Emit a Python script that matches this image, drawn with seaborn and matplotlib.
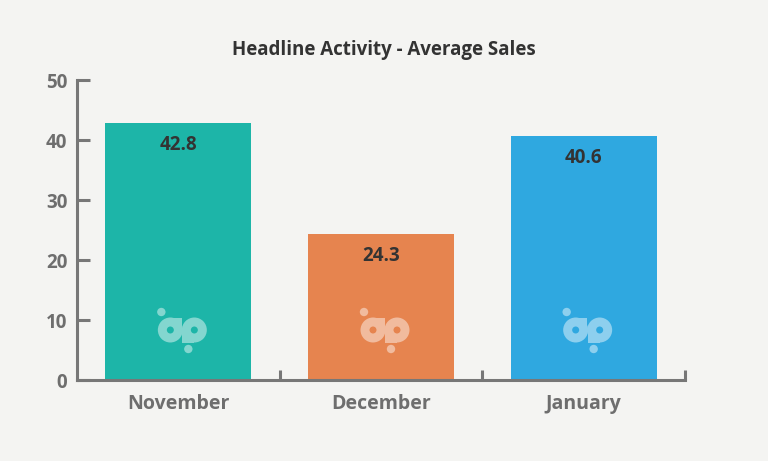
import matplotlib
matplotlib.use("Agg")
import matplotlib.pyplot as plt
import matplotlib.patches as mpatches
import matplotlib.transforms as mtransforms
import matplotlib.colors as mcolors
import seaborn as sns
import pandas as pd
import numpy as np

months = ["November", "December", "January"]
avg_sales = [42.8, 24.3, 40.6]
bar_colors = ["#1DB5A8", "#E6844F", "#2FA8E0"]
y_ticks = [0, 10, 20, 30, 40, 50]
title = "Headline Activity - Average Sales"

BG = "#F4F4F2"
AXC = "#777777"
TXT = "#6E6E6E"

sns.set_theme(style="white")
plt.rcParams["font.family"] = ["Open Sans", "DejaVu Sans"]

fig = plt.figure(figsize=(7.68, 4.61), dpi=100, facecolor=BG)
ax = fig.add_axes([77/768, 1-380/461, (685-77)/768, 300/461])
ax.set_facecolor(BG)

df = pd.DataFrame({"month": months, "sales": avg_sales})
sns.barplot(data=df, x="month", y="sales", hue="month", palette=bar_colors,
            saturation=1, width=0.72, legend=False, ax=ax, linewidth=0)

ax.set_xlim(-0.5, 2.5)
ax.set_ylim(0, 50)
ax.set_yticks(y_ticks)
ax.set_xlabel("")
ax.set_ylabel("")
for s in ["top", "right"]:
    ax.spines[s].set_visible(False)
for s in ["left", "bottom"]:
    ax.spines[s].set_color(AXC)
    ax.spines[s].set_linewidth(2.2)
    ax.spines[s].set_capstyle("projecting")
    ax.spines[s].set_zorder(5)

ax.tick_params(axis="y", left=True, direction="in", length=9, width=2.2, color=AXC,
               labelsize=13.5, labelcolor=TXT, pad=7)
ax.tick_params(axis="x", which="major", bottom=False, length=0, labelsize=14,
               labelcolor=TXT, pad=10)
ax.set_xticks([0.5, 1.5, 2.5], minor=True)
ax.tick_params(axis="x", which="minor", bottom=True, direction="in", length=7,
               width=2.2, color=AXC)
for lab in ax.get_yticklabels() + ax.get_xticklabels():
    lab.set_fontweight("bold")

# value labels
for i, v in enumerate(avg_sales):
    ax.annotate(f"{v}", (i, v), xytext=(0, -22), textcoords="offset pixels",
                ha="center", va="center", fontsize=13.5, fontweight="bold", color="#333333")

# watermark logos (decorative)
fig.canvas.draw()
for i, c in enumerate(bar_colors):
    base = np.array(mcolors.to_rgb(c))
    light = tuple(base * 0.55 + 0.45)
    cx, cy = ax.transData.transform((i, 0))
    cx += 3
    cy += 50
    tr = mtransforms.Affine2D().translate(cx, cy)
    wm = dict(facecolor=light, edgecolor="none", transform=tr, zorder=3)
    ax.add_patch(mpatches.Circle((-20, 18), 4.2, **wm))
    ax.add_patch(mpatches.Circle((-11, 0), 12.5, **wm))
    ax.add_patch(mpatches.Rectangle((-11, 0), 11.5, 12.5, **wm))
    ax.add_patch(mpatches.Circle((13, 0), 12.5, **wm))
    ax.add_patch(mpatches.Rectangle((1, -12.5), 12, 12.5, **wm))
    ax.add_patch(mpatches.Circle((7, -19), 4.2, **wm))
    hole = dict(facecolor=c, edgecolor="none", transform=tr, zorder=4)
    ax.add_patch(mpatches.Circle((-11, 0), 3.5, **hole))
    ax.add_patch(mpatches.Circle((13, 0), 3.5, **hole))

fig.text(384/768, 1-50/461, title, ha="center", va="center", fontsize=13.5,
         fontweight="bold", color="#333333")

fig.savefig("out.png", dpi=100, facecolor=BG)
